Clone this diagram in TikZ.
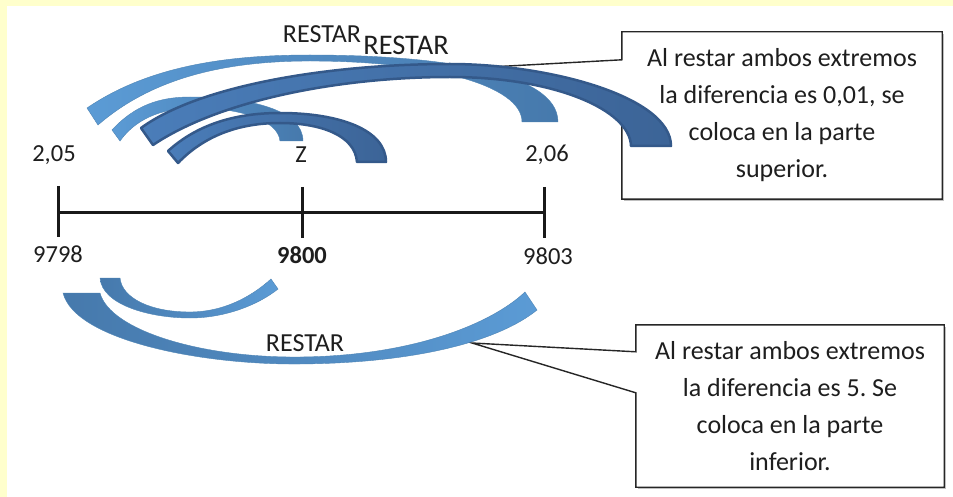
\documentclass[tikz,border=0pt]{standalone}
\usepackage{fontspec}
\setmainfont{Carlito}
\frenchspacing
\usetikzlibrary{calc}
\definecolor{bgyellow}{HTML}{FFFFCC}
\definecolor{txt}{HTML}{1E1E1E}
\definecolor{lblue}{HTML}{5B9BD5}
\definecolor{mblue}{HTML}{4679AC}
\definecolor{dblueL}{HTML}{4A7DB9}
\definecolor{dblueR}{HTML}{3C6497}
\definecolor{dline}{HTML}{34598A}
\tikzset{
  lbl/.style={font=\fontsize{24.5}{29}\selectfont, text=txt, inner sep=0pt, anchor=base},
  restar/.style={font=\fontsize{26}{30}\selectfont, text=txt, inner sep=0pt, anchor=base},
  boxtxt/.style={font=\fontsize{26}{37}\selectfont, text=txt, align=center, inner sep=0pt},
  axis/.style={line width=3pt, draw=black!90, line cap=butt},
  callout/.style={draw=black!85, line width=1.4pt, fill=white, line join=miter},
  shadowbox/.style={fill=black!25},
  arcup/.style={left color=lblue, right color=mblue, draw=lblue!85!black, line width=0.4pt},
  arcdark/.style={left color=dblueL, right color=dblueR, draw=dline, line width=2.5pt, line join=round},
  arcdown/.style={left color=mblue, right color=lblue, draw=lblue!85!black, line width=0.4pt}
}
\begin{document}
\begin{tikzpicture}[x=1pt,y=-1pt]
\useasboundingbox (0,0) rectangle (953,497);
\fill[bgyellow] (0,0) rectangle (953,497);
\fill[white] (7,6) rectangle (953,497);

% callout boxes (text nodes fix the frames)
\node[boxtxt, minimum width=320pt, minimum height=167pt] (b1) at (782,115.5) {};
\node[boxtxt, minimum width=308pt, minimum height=162pt] (b2) at (790,406) {};
\coordinate (t1) at (490,67);
\coordinate (t2) at (472,343);
\fill[shadowbox] ($(b1.north west)+(2,2)$) rectangle ($(b1.south east)+(2,2)$);
\fill[shadowbox] ($(b2.north west)+(2,2)$) rectangle ($(b2.south east)+(2,2)$);
\draw[callout] (b1.north west) -- (b1.north east) -- (b1.south east) -- (b1.south west)
  -- ($(b1.north west)+(0,68)$) -- (t1) -- ($(b1.north west)+(0,28)$) -- cycle;
\draw[callout] (b2.north west) -- (b2.north east) -- (b2.south east) -- (b2.south west)
  -- ($(b2.north west)+(0,68)$) -- (t2) -- ($(b2.north west)+(0,27)$) -- cycle;
\node[boxtxt] (b1t) at (b1.center) {Al restar ambos extremos\\la diferencia es 0,01, se\\coloca en la parte\\superior.};
\node[boxtxt] (b2t) at (b2.center) {Al restar ambos extremos\\la diferencia es 5. Se\\coloca en la parte\\inferior.};

% number line
\coordinate (L) at (58,213);
\coordinate (M) at (302,213);
\coordinate (R) at (544,213);
\draw[axis] (L) -- (R);
\draw[axis] ($(L)+(0,-27)$) -- ($(L)+(0,24)$);
\draw[axis] ($(M)+(0,-26)$) -- ($(M)+(0,25)$);
\draw[axis] ($(R)+(0,-26)$) -- ($(R)+(0,25)$);

% labels
\node[lbl] (a205) at (54,162) {2,05};
\node[lbl] (az) at (301,163) {Z};
\node[lbl] (a206) at (547,162) {2,06};
\node[lbl] (n9798) at (58,262) {9798};
\node[lbl, font=\fontsize{24.5}{29}\selectfont\bfseries] (n9800) at (302,263) {9800};
\node[lbl] (n9803) at (548,264) {9803};

% upper arcs
\path[arcup] (87,108) .. controls (150,65) and (230,55) .. (310,55)
  .. controls (430,55) and (558,70) .. (558,122) -- (522,122)
  .. controls (522,85) and (430,61) .. (310,61)
  .. controls (220,61) and (150,80) .. (98,125) -- cycle;
\path[arcup] (112,130) .. controls (135,105) and (160,97) .. (190,97)
  .. controls (250,97) and (303,110) .. (303,141) -- (280,141)
  .. controls (278,120) and (240,108) .. (195,108)
  .. controls (160,108) and (135,120) .. (120,141) -- cycle;
\path[arcdark] (141,128) .. controls (200,85) and (330,64) .. (450,64)
  .. controls (550,64) and (671,97) .. (671,146) -- (631,146)
  .. controls (630,110) and (555,77) .. (450,77)
  .. controls (340,77) and (220,100) .. (153,145) -- cycle;
\path[arcdark] (168,151) .. controls (200,122) and (240,113) .. (280,113)
  .. controls (340,113) and (386,130) .. (386,162) -- (357,162)
  .. controls (355,135) and (320,123) .. (280,123)
  .. controls (240,123) and (205,135) .. (178,163) -- cycle;

% lower arcs
\path[arcdown] (100,278) .. controls (102,305) and (150,318) .. (190,318)
  .. controls (225,318) and (258,305) .. (278,289) -- (271,279)
  .. controls (250,298) and (222,312) .. (190,312)
  .. controls (150,312) and (122,298) .. (120,278) -- cycle;
\path[arcdown] (63,293) .. controls (75,340) and (200,365) .. (300,364)
  .. controls (420,363) and (500,340) .. (537,310) -- (525,292)
  .. controls (490,325) and (410,356) .. (300,357)
  .. controls (200,358) and (110,330) .. (100,293) -- cycle;

% RESTAR labels
\node[restar] (r1) at (322,43) {RESTAR};
\node[restar, font=\fontsize{28.4}{32}\selectfont] (r2) at (406,55) {RESTAR};
\node[restar] (r3) at (305,351) {RESTAR};
\end{tikzpicture}
\end{document}
